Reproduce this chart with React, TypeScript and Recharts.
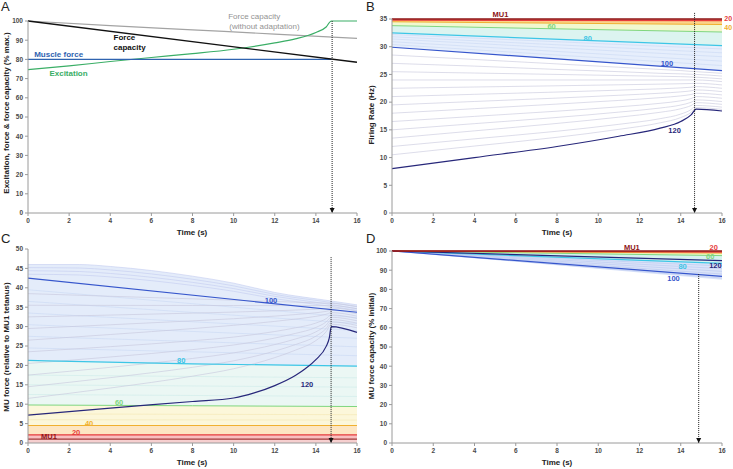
import React from "react";
import {
  ComposedChart,
  Line,
  Area,
  XAxis,
  YAxis,
  ReferenceDot,
  ReferenceLine,
} from "recharts";

const FONT = "'Liberation Sans', Arial, sans-serif";
const AXIS = "#9a9a9a";
const TICK = { fontSize: 6.5, fontWeight: 700, fill: "#4a4a4a", fontFamily: FONT };
const X_TICKS = [0, 2, 4, 6, 8, 10, 12, 14, 16];

const C_MU1 = "#8e1616";
const C_20 = "#e63c3c";
const C_40 = "#f0b030";
const C_60 = "#7fd67f";
const C_80 = "#3cc6e6";
const C_100 = "#3656cc";
const C_120 = "#27277a";
const THIN = "#c6c6dc";
const FAINT = "#c9d8f4";

const T_ENDS = [0, 16];

// ---- A: excitation, force, force capacity (% max.)
const A_T = [0, 2, 4, 6, 8, 10, 12, 13, 14, 14.5, 14.75, 16];
const A_EXCITATION = [74.7, 76.6, 78.9, 81.0, 83.0, 85.3, 88.6, 90.7, 94.0, 96.9, 100, 100];
const A_CAP = [100, 78.5];
const A_NOADAPT_T = [0, 4, 8, 12, 16];
const A_NOADAPT = [100, 97.6, 95.4, 93.2, 90.9];
const A_FORCE_T = [0, 14.75];
const A_FORCE = [80, 80];

// ---- B: firing rate (Hz)
const B_MU1 = [35, 35];
const B_MU20 = [34.8, 34.7];
const B_MU40 = [34.5, 34.0];
const B_MU60 = [33.8, 32.65];
const B_MU80 = [32.5, 30.2];
const B_MU100 = [29.9, 25.7];
const B_T = [0, 4, 8, 11, 13, 14, 14.5, 14.75, 16];
const B_MU120 = [8.0, 10.0, 12.0, 13.85, 15.3, 16.5, 17.7, 18.75, 18.4];
const B_UPPER = [
  [30.4, 26.6],
  [30.9, 27.4],
  [31.4, 28.2],
  [31.8, 28.9],
  [32.2, 29.6],
];
const B_LOWER = [
  [28.5, 27.7, 26.9, 26.3, 25.9, 25.7, 25.55, 25.5, 25.2],
  [27.0, 26.5, 25.9, 25.5, 25.2, 25.1, 25.03, 25.0, 24.7],
  [25.5, 25.25, 25.0, 24.8, 24.67, 24.6, 24.54, 24.5, 24.2],
  [24.0, 24.0, 24.0, 24.0, 24.0, 24.0, 24.0, 24.0, 23.7],
  [22.5, 22.73, 22.95, 23.13, 23.25, 23.32, 23.36, 23.4, 23.1],
  [21.0, 21.41, 21.82, 22.16, 22.4, 22.57, 22.69, 22.8, 22.5],
  [19.5, 20.12, 20.73, 21.24, 21.61, 21.85, 22.04, 22.2, 21.9],
  [18.0, 18.82, 19.65, 20.31, 20.81, 21.13, 21.38, 21.6, 21.3],
  [16.5, 17.43, 18.37, 19.16, 19.79, 20.24, 20.64, 21.0, 20.7],
  [15.0, 16.12, 17.24, 18.2, 18.94, 19.48, 19.97, 20.4, 20.1],
  [13.5, 14.82, 16.16, 17.29, 18.17, 18.81, 19.39, 19.9, 19.6],
  [12.0, 13.38, 14.75, 16.0, 17.02, 17.85, 18.66, 19.4, 19.1],
  [10.5, 12.08, 13.66, 15.09, 16.27, 17.22, 18.15, 19.0, 18.7],
];

// ---- C: MU force (relative to MU1 tetanus)
const C_MU1V = [1.0, 1.0];
const C_MU20V = [2.1, 2.1];
const C_MU40V = [4.5, 4.5];
const C_MID_T = [0, 8, 16];
const C_MU60V = [9.8, 9.6, 9.4];
const C_MU80V = [21.3, 20.4, 19.8];
const C_MU100V = [42.5, 33.7];
const C_MU120_T = [0, 4, 8, 10, 11, 12, 13, 13.5, 14, 14.5, 14.65, 14.75, 16];
const C_MU120V = [7.2, 9.0, 10.7, 11.6, 12.9, 14.8, 17.4, 19.2, 21.5, 24.9, 27.0, 30.0, 28.5];
const C_TOP_T = [0, 2.5, 4, 8, 10, 12, 14.75, 16];
const C_TOP = [
  [46.0, 46.0, 45.5, 43.0, 41.2, 38.8, 36.6, 35.6],
  [45.2, 45.1, 44.6, 42.2, 40.5, 38.3, 36.2, 35.1],
  [44.4, 44.2, 43.7, 41.4, 39.8, 37.8, 35.7, 34.6],
  [43.5, 43.3, 42.8, 40.6, 39.1, 37.2, 35.2, 34.2],
];
const C_FAINT = [
  [6.0, 5.9],
  [7.5, 7.3],
  [12.5, 12.0],
  [15.0, 14.4],
  [17.5, 16.8],
  [24.5, 22.5],
  [27.5, 24.8],
  [30.5, 27.0],
  [33.5, 29.0],
  [36.5, 30.8],
  [39.5, 32.3],
];
const C_GREY_T = [0, 4, 8, 10, 12, 13, 14, 14.5, 14.75, 16];
const C_GREY = [
  [38.5, 37.82, 37.15, 36.8, 36.47, 36.3, 36.13, 36.04, 36.0, 35.2],
  [35.5, 35.47, 35.45, 35.43, 35.42, 35.41, 35.41, 35.4, 35.4, 34.6],
  [32.5, 32.97, 33.47, 33.74, 34.07, 34.26, 34.49, 34.67, 34.8, 34.0],
  [29.5, 30.47, 31.48, 32.03, 32.7, 33.1, 33.57, 33.93, 34.2, 33.3],
  [26.5, 27.96, 29.49, 30.33, 31.34, 31.94, 32.64, 33.19, 33.6, 32.7],
  [23.5, 24.83, 26.35, 27.3, 28.73, 29.68, 30.91, 32.05, 33.0, 32.1],
  [20.5, 22.17, 24.07, 25.26, 27.05, 28.24, 29.78, 31.21, 32.4, 31.5],
  [17.5, 19.5, 21.79, 23.22, 25.37, 26.8, 28.65, 30.37, 31.8, 30.9],
  [14.5, 16.84, 19.51, 21.18, 23.69, 25.36, 27.53, 29.53, 31.2, 30.3],
  [11.5, 14.17, 17.23, 19.14, 22.0, 23.92, 26.4, 28.69, 30.6, 29.7],
];

// ---- D: MU force capacity (% initial)
const D_ENV = [100, 85.0];
const D_MU100 = [100, 86.8];
const D_MU80 = [100, 93.6];
const D_MU120 = [100, 95.0];
const D_MU60 = [100, 97.6];
const D_MU40 = [100, 98.9];
const D_MU20 = [100, 99.4];
const D_MU1 = [100, 100];
const D_FAINT = [
  [100, 92.2],
  [100, 90.8],
  [100, 89.4],
  [100, 88.0],
  [100, 85.9],
];

const pts = (ts: number[], vs: number[]) => ts.map((t, i) => ({ t, v: vs[i] }));
const band = (ts: number[], lo: number[], hi: number[]) =>
  ts.map((t, i) => ({ t, v: [lo[i], hi[i]] }));

function tag(id: string, t: number, v: number, text: string, color: string, weight: any = 700, size = 7.5) {
  return (
    <ReferenceDot
      key={id}
      x={t}
      y={v}
      r={0}
      ifOverflow="visible"
      fill="none"
      stroke="none"
      label={{ value: text, position: "center", fill: color, fontSize: size, fontWeight: weight, fontFamily: FONT }}
    />
  );
}

function arrow(id: string, t: number, top: number) {
  return [
    <ReferenceLine
      key={id + "l"}
      segment={[{ x: t, y: top }, { x: t, y: 0 }]}
      stroke="#222"
      strokeWidth={1}
      strokeDasharray="1 1"
      ifOverflow="visible"
    />,
    <ReferenceDot
      key={id + "h"}
      x={t}
      y={0}
      r={3}
      ifOverflow="visible"
      shape={(p: any) => (
        <path d={`M${p.cx - 2.5},${p.cy - 5} L${p.cx + 2.5},${p.cy - 5} L${p.cx},${p.cy} Z`} fill="#111" />
      )}
    />,
  ];
}

function line(id: string, data: any[], color: string, width = 1.2, type: any = "linear") {
  return (
    <Line
      key={id}
      data={data}
      dataKey="v"
      type={type}
      stroke={color}
      strokeWidth={width}
      dot={false}
      activeDot={false}
      isAnimationActive={false}
    />
  );
}

function area(id: string, data: any[], color: string, type: any = "linear") {
  return (
    <Area
      key={id}
      data={data}
      dataKey="v"
      type={type}
      stroke="none"
      fill={color}
      fillOpacity={1}
      activeDot={false}
      isAnimationActive={false}
    />
  );
}

function axes(yDomain: number[], yTicks: number[]) {
  return [
    <XAxis
      key="x"
      type="number"
      dataKey="t"
      domain={[0, 16]}
      ticks={X_TICKS}
      interval={0}
      height={22}
      stroke={AXIS}
      tickSize={3}
      tick={TICK}
    />,
    <YAxis
      key="y"
      type="number"
      domain={yDomain}
      ticks={yTicks}
      interval={0}
      width={20}
      stroke={AXIS}
      tickSize={3}
      tick={TICK}
    />,
  ];
}

const range = (a: number, b: number, s: number) => {
  const r: number[] = [];
  for (let v = a; v <= b; v += s) r.push(v);
  return r;
};

export default function App() {
  return (
    <div style={{ position: "absolute", left: 0, top: 0, width: 733, height: 469, background: "#fff", fontFamily: FONT }}>
      {/* A */}
      <div style={{ position: "absolute", left: 0, top: 0 }}>
        <ComposedChart width={366} height={235} margin={{ top: 21, right: 9, left: 8, bottom: 0 }}>
          {axes([0, 100], range(0, 100, 10))}
          {line("noadapt", pts(A_NOADAPT_T, A_NOADAPT), "#a3a3a3", 1.2, "monotone")}
          {line("exc", pts(A_T, A_EXCITATION), "#3aae66", 1.2, "monotone")}
          {line("force", pts(A_FORCE_T, A_FORCE), "#2f63b0", 1.2)}
          {line("cap", pts(T_ENDS, A_CAP), "#111", 1.4)}
          {arrow("aa", 14.79, 100)}
          {tag("a1", 11.0, 102.4, "Force capacity", "#939393", 400, 8)}
          {tag("a2", 11.5, 97.2, "(without adaptation)", "#939393", 400, 8)}
          {tag("a3", 4.69, 91.7, "Force", "#111", 700, 8)}
          {tag("a4", 4.94, 86.5, "capacity", "#111", 700, 8)}
          {tag("a5", 1.49, 82.7, "Muscle force", "#2f63b0", 700, 8)}
          {tag("a6", 1.97, 72.7, "Excitation", "#3aae66", 700, 8)}
        </ComposedChart>
      </div>

      {/* B */}
      <div style={{ position: "absolute", left: 365, top: 0 }}>
        <ComposedChart width={368} height={235} margin={{ top: 19, right: 11, left: 7, bottom: 0 }}>
          {axes([0, 35], range(0, 35, 5))}
          {area("b5", band(T_ENDS, B_MU100, B_MU80), "#e6eefc")}
          {area("b4", band(T_ENDS, B_MU80, B_MU60), "#dcf4f0")}
          {area("b3", band(T_ENDS, B_MU60, B_MU40), "#f1f8cf")}
          {area("b2", band(T_ENDS, B_MU40, B_MU20), "#fbd48a")}
          {area("b1", band(T_ENDS, B_MU20, B_MU1), "#f07a7a")}
          {B_UPPER.map((r, i) => line("bu" + i, pts(T_ENDS, r), FAINT, 0.6))}
          {B_LOWER.map((r, i) => line("bl" + i, pts(B_T, r), THIN, 0.6, "monotone"))}
          {line("b60", pts(T_ENDS, B_MU60), C_60, 1)}
          {line("b40", pts(T_ENDS, B_MU40), C_40, 1)}
          {line("b80", pts(T_ENDS, B_MU80), C_80, 1.2)}
          {line("b100", pts(T_ENDS, B_MU100), C_100, 1.2)}
          {line("b120", pts(B_T, B_MU120), C_120, 1.2, "monotone")}
          {line("b20", pts(T_ENDS, B_MU20), C_20, 1.2)}
          {line("b1", pts(T_ENDS, B_MU1), C_MU1, 1.6)}
          {arrow("ba", 14.67, 36.1)}
          {tag("bt1", 5.26, 35.8, "MU1", C_MU1)}
          {tag("bt2", 7.74, 33.7, "60", C_60)}
          {tag("bt3", 9.49, 31.6, "80", C_80)}
          {tag("bt4", 13.33, 27.0, "100", C_100)}
          {tag("bt5", 13.7, 15.0, "120", C_120)}
          {tag("bt6", 16.3, 35.05, "20", C_20, 700, 7)}
          {tag("bt7", 16.3, 33.4, "40", C_40, 700, 7)}
        </ComposedChart>
      </div>

      {/* C */}
      <div style={{ position: "absolute", left: 0, top: 232 }}>
        <ComposedChart width={366} height={237} margin={{ top: 17, right: 9, left: 8, bottom: 4 }}>
          {axes([0, 50], range(0, 50, 5))}
          {area("c6", pts(C_TOP_T, C_TOP[0]), "#e4ecfa", "monotone")}
          {area("c5", pts(C_MID_T, C_MU80V), "#ebf7f4")}
          {area("c4", pts(C_MID_T, C_MU60V), "#fcf7da")}
          {area("c3", pts(T_ENDS, C_MU40V), "#fde6c2")}
          {area("c2", pts(T_ENDS, C_MU20V), "#f8bfbf")}
          {area("c1", pts(T_ENDS, C_MU1V), "#f6cfcf")}
          {C_FAINT.map((r, i) => line("cf" + i, pts(T_ENDS, r), i < 2 ? "#f3e6b0" : i < 5 ? "#cdebea" : FAINT, 0.6))}
          {C_TOP.map((r, i) => line("ct" + i, pts(C_TOP_T, r), "#c2cbf0", 0.6, "monotone"))}
          {C_GREY.map((r, i) => line("cg" + i, pts(C_GREY_T, r), THIN, 0.6, "monotone"))}
          {line("c40", pts(T_ENDS, C_MU40V), C_40, 1.1)}
          {line("c60", pts(C_MID_T, C_MU60V), C_60, 1)}
          {line("c80", pts(C_MID_T, C_MU80V), C_80, 1.2, "monotone")}
          {line("c100", pts(T_ENDS, C_MU100V), C_100, 1.2)}
          {line("c120", pts(C_MU120_T, C_MU120V), C_120, 1.2, "monotone")}
          {line("c20", pts(T_ENDS, C_MU20V), C_20, 1.1)}
          {line("c1", pts(T_ENDS, C_MU1V), C_MU1, 1)}
          {arrow("ca", 14.74, 47.9)}
          {tag("ct1", 11.82, 36.7, "100", C_100)}
          {tag("ct2", 7.45, 21.3, "80", C_80)}
          {tag("ct3", 13.57, 15.0, "120", C_120)}
          {tag("ct4", 4.43, 10.5, "60", C_60)}
          {tag("ct5", 2.97, 5.1, "40", C_40)}
          {tag("ct6", 2.34, 2.8, "20", C_20)}
          {tag("ct7", 1.02, 1.7, "MU1", C_MU1)}
        </ComposedChart>
      </div>

      {/* D */}
      <div style={{ position: "absolute", left: 365, top: 232 }}>
        <ComposedChart width={368} height={237} margin={{ top: 19, right: 11, left: 7, bottom: 4 }}>
          {axes([0, 100], range(0, 100, 10))}
          {area("d5", band(T_ENDS, D_ENV, D_MU80), "#dbe4f9")}
          {area("d4", band(T_ENDS, D_MU80, D_MU60), "#d6f2ef")}
          {area("d3", band(T_ENDS, D_MU60, D_MU40), "#eef6c8")}
          {area("d2", band(T_ENDS, D_MU40, D_MU20), "#fbd48a")}
          {area("d1", band(T_ENDS, D_MU20, D_MU1), "#f29a9a")}
          {D_FAINT.map((r, i) => line("df" + i, pts(T_ENDS, r), "#b9c6f0", 0.6))}
          {line("d60", pts(T_ENDS, D_MU60), C_60, 1)}
          {line("d40", pts(T_ENDS, D_MU40), C_40, 1)}
          {line("d80", pts(T_ENDS, D_MU80), C_80, 1.2)}
          {line("d100", pts(T_ENDS, D_MU100), C_100, 1.2)}
          {line("d120", pts(T_ENDS, D_MU120), C_120, 1.2)}
          {line("d20", pts(T_ENDS, D_MU20), C_20, 1.2)}
          {line("d1", pts(T_ENDS, D_MU1), C_MU1, 1.4)}
          {arrow("da", 14.87, 88.0)}
          {tag("dt1", 11.63, 101.8, "MU1", C_MU1)}
          {tag("dt2", 15.6, 101.8, "20", C_20)}
          {tag("dt3", 15.43, 97.2, "60", C_60)}
          {tag("dt4", 15.68, 92.6, "120", C_120)}
          {tag("dt5", 14.09, 92.2, "80", C_80)}
          {tag("dt6", 13.65, 86.0, "100", C_100)}
        </ComposedChart>
      </div>

      <svg width={733} height={469} style={{ position: "absolute", left: 0, top: 0, pointerEvents: "none" }}>
        <g fontFamily={FONT} fill="#222">
          <text x={1} y={11} fontSize={13}>A</text>
          <text x={366} y={11} fontSize={13}>B</text>
          <text x={1} y={243} fontSize={13}>C</text>
          <text x={366} y={243} fontSize={13}>D</text>
        </g>
        <g fontFamily={FONT} fill="#222" fontSize={8} fontWeight={700} textAnchor="middle">
          <text x={192} y={235}>Time (s)</text>
          <text x={557} y={235}>Time (s)</text>
          <text x={192} y={465}>Time (s)</text>
          <text x={557} y={465}>Time (s)</text>
          <text transform="translate(9,113) rotate(-90)">Excitation, force &amp; force capacity (% max.)</text>
          <text transform="translate(374,115) rotate(-90)">Firing Rate (Hz)</text>
          <text transform="translate(9,347) rotate(-90)">MU force (relative to MU1 tetanus)</text>
          <text transform="translate(374,346) rotate(-90)">MU force capacity (% initial)</text>
        </g>
      </svg>
    </div>
  );
}
